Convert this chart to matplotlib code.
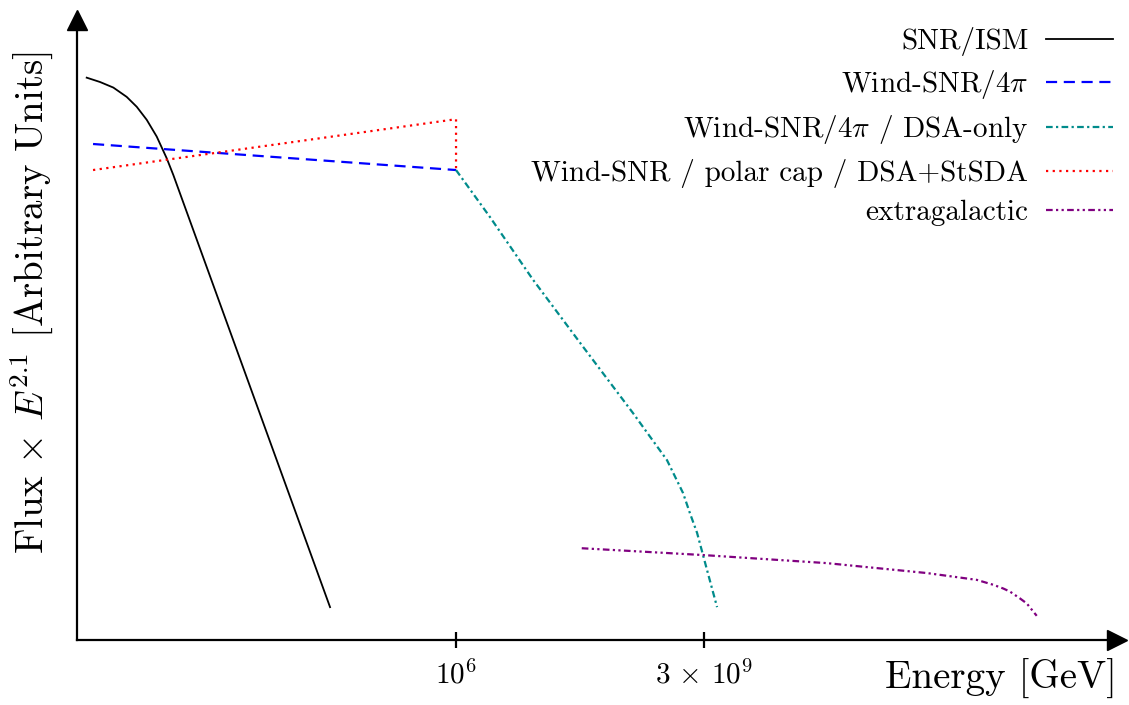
import numpy as np
import matplotlib.pyplot as plt

plt.rcParams['font.family'] = 'cmr10'
plt.rcParams['mathtext.fontset'] = 'cm'
plt.rcParams['axes.unicode_minus'] = False
plt.rcParams['axes.formatter.use_mathtext'] = True

# log10(E / GeV) and flux*E^2.1 in arbitrary units (0..1)
snr_logE = [0.82, 1.007, 1.194, 1.381, 1.522, 1.662, 1.802, 1.942, 2.035, 4.233]
snr_flux = [0.907, 0.900, 0.891, 0.876, 0.860, 0.839, 0.812, 0.777, 0.750, 0.053]

wind_logE = [0.909, 6.0]
wind_flux = [0.800, 0.758]

polar_logE = [0.909, 6.0, 6.0]
polar_flux = [0.758, 0.840, 0.758]

dsa_logE = [6.0, 6.477, 7.08, 7.781, 8.482, 8.959, 9.095, 9.184, 9.282, 9.38, 9.52, 9.661]
dsa_flux = [0.758, 0.682, 0.581, 0.473, 0.366, 0.290, 0.258, 0.237, 0.204, 0.173, 0.113, 0.053]

xgal_logE = [7.763, 9.468, 11.199, 12.602, 13.303, 13.536, 13.676, 13.77, 13.91, 14.004, 14.144]
xgal_flux = [0.148, 0.137, 0.124, 0.108, 0.097, 0.089, 0.083, 0.078, 0.067, 0.059, 0.039]

tick_pos = [1e6, 3e9]
tick_labels = [r'$10^6$', r'$3\,\times\,10^9$']

fig = plt.figure(figsize=(11.29, 7.05), dpi=100)
W, H = 1129, 705
ax = fig.add_axes([77 / W, 65 / H, (1117 - 77) / W, (640 - 20) / H])

ax.plot(10 ** np.array(snr_logE), snr_flux, color='black', lw=1.3, label='SNR/ISM')
ax.plot(10 ** np.array(wind_logE), wind_flux, color='blue', lw=1.6, ls=(0, (5, 3)),
        label=r'Wind-SNR/4$\pi$')
ax.plot(10 ** np.array(dsa_logE), dsa_flux, color='#008B8B', lw=1.6, ls=(0, (3, 1.5, 1, 1.5)),
        label=r'Wind-SNR/4$\pi$ / DSA-only')
ax.plot(10 ** np.array(polar_logE), polar_flux, color='red', lw=1.6, ls=(0, (1, 2)),
        label='Wind-SNR / polar cap / DSA+StSDA')
ax.plot(10 ** np.array(xgal_logE), xgal_flux, color='purple', lw=1.6,
        ls=(0, (3, 1.5, 1, 1.5, 1, 1.5)), label='extragalactic')

ax.set_xscale('log')
ax.set_xlim(10 ** 0.684, 10 ** 15.27)
ax.set_ylim(0, 1)

ax.spines['top'].set_visible(False)
ax.spines['right'].set_visible(False)
ax.spines['left'].set_linewidth(1.6)
ax.spines['bottom'].set_linewidth(1.6)

ax.plot(1, 0, '>k', ms=15, transform=ax.transAxes, clip_on=False)
ax.plot(0, 1, '^k', ms=15, transform=ax.transAxes, clip_on=False)

ax.set_xticks(tick_pos)
ax.set_xticklabels(tick_labels, fontsize=21)
ax.xaxis.set_minor_locator(plt.NullLocator())
ax.tick_params(axis='x', direction='inout', length=12, width=1.6, pad=9)
ax.set_yticks([])

ax.set_xlabel('Energy [GeV]', fontsize=28, ha='right', va='top')
ax.xaxis.set_label_coords(1.0, -0.03)
ax.set_ylabel(r'Flux$\,\times\,E^{2.1}$ [Arbitrary Units]', fontsize=28)
ax.yaxis.set_label_coords(-0.02, 0.545)

ax.legend(loc='upper right', bbox_to_anchor=(1113 / W, (705 - 27) / H), bbox_transform=fig.transFigure,
          frameon=False, fontsize=21, markerfirst=False, handlelength=2.3, handletextpad=0.6,
          borderpad=0, borderaxespad=0, labelspacing=0.42)

fig.savefig('out.png', dpi=100)
